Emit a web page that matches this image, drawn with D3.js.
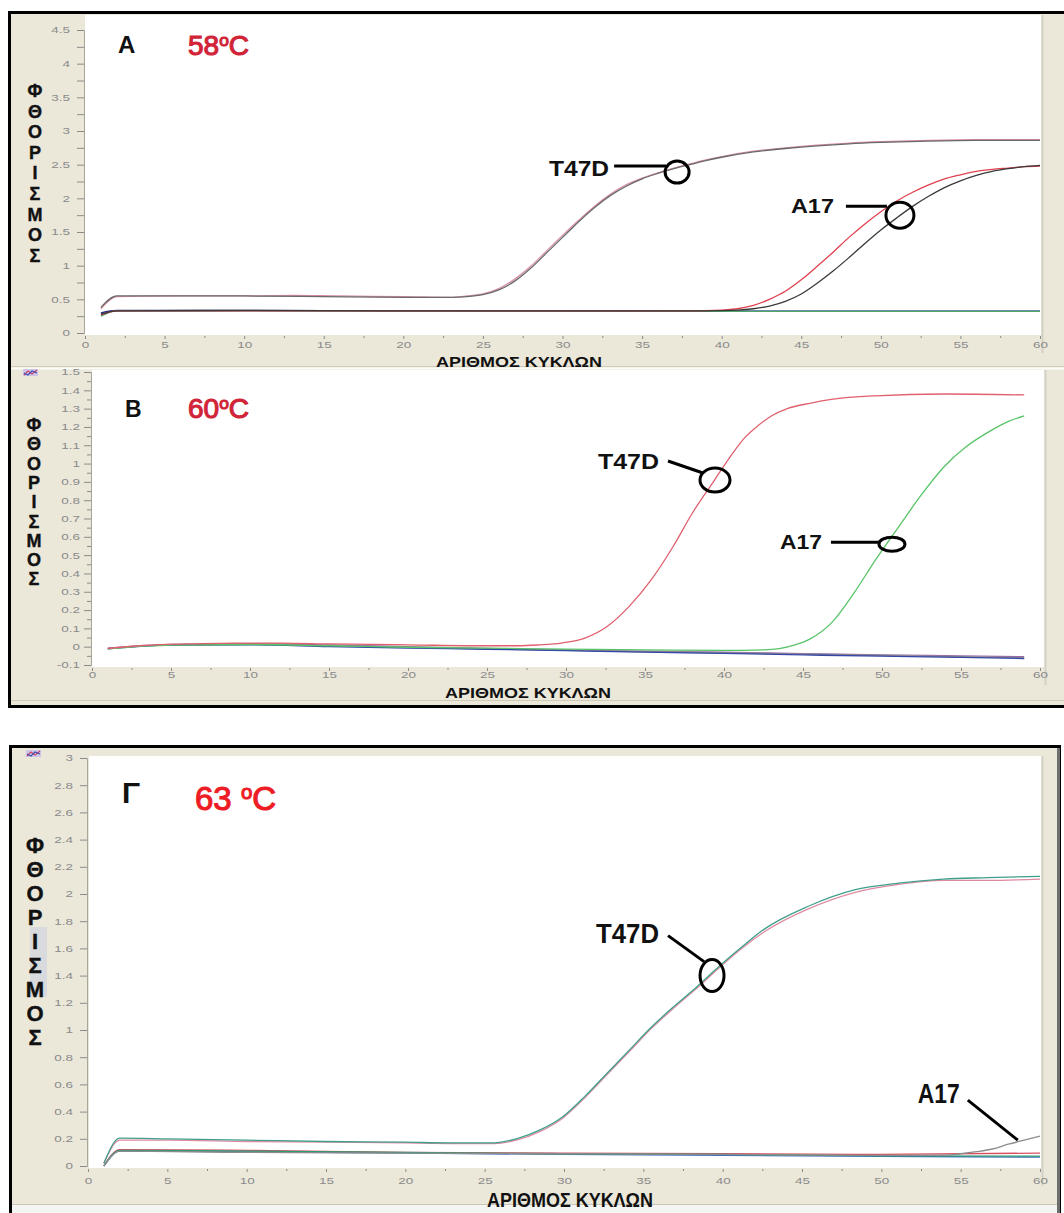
<!DOCTYPE html>
<html>
<head>
<meta charset="utf-8">
<script src="https://cdn.jsdelivr.net/npm/d3@7"></script>
<style>
  body { margin: 0; background: #ffffff; }
  svg { display: block; }
</style>
</head>
<body>
<svg id="fig" width="1064" height="1213"></svg>
<script>
// ---------------------------------------------------------------
// Real-time PCR amplification curves (fluorescence vs. cycle)
// at three annealing temperatures: 58, 60 and 63 °C.
// Each trace is a list of [cycle, fluorescence] readings.
// ---------------------------------------------------------------

// shared axis text
const xTickLabels = ["0","5","10","15","20","25","30","35","40","45","50","55","60"];
const yTickLabelsA = ["0","0.5","1","1.5","2","2.5","3","3.5","4","4.5"];
const yTickLabelsB = ["-0.1","0","0.1","0.2","0.3","0.4","0.5","0.6","0.7","0.8","0.9","1","1.1","1.2","1.3","1.4","1.5"];
const yTickLabelsC = ["0","0.2","0.4","0.6","0.8","1","1.2","1.4","1.6","1.8","2","2.2","2.4","2.6","2.8","3"];
const yTitleLetters = ["Φ","Θ","Ο","Ρ","Ι","Σ","Μ","Ο","Σ"];
const xTitle = "ΑΡΙΘΜΟΣ ΚΥΚΛΩΝ";

// ---- panel A : 58 °C ----
const a58_T47D_pink = [[1,0.36],[2,0.54],[6,0.55],[10,0.55],[13,0.56],[16,0.55],[20,0.54],[23,0.53],[24,0.55],[25,0.58],[26,0.66],[27,0.8],[28,0.99],[29,1.22],[30,1.45],[31,1.67],[32,1.88],[33,2.06],[34,2.2],[35,2.3],[36,2.38],[37,2.45],[38,2.51],[39,2.57],[40,2.62],[42,2.7],[44,2.75],[46,2.79],[48,2.82],[50,2.84],[53,2.86],[56,2.87],[60,2.87]];
const a58_T47D_gray = [[1,0.38],[2,0.55],[6,0.55],[10,0.55],[15,0.54],[20,0.53],[23,0.53],[24,0.54],[25,0.57],[26,0.64],[27,0.77],[28,0.96],[29,1.19],[30,1.42],[31,1.65],[32,1.86],[33,2.04],[34,2.18],[35,2.29],[36,2.37],[37,2.44],[38,2.5],[39,2.56],[40,2.61],[42,2.69],[44,2.74],[46,2.78],[48,2.81],[50,2.83],[53,2.85],[56,2.86],[60,2.86]];
const a58_A17_red = [[1,0.27],[2,0.33],[10,0.33],[20,0.33],[30,0.33],[38,0.33],[40,0.34],[41,0.36],[42,0.41],[43,0.5],[44,0.62],[45,0.79],[46,0.99],[47,1.2],[48,1.42],[49,1.62],[50,1.8],[51,1.96],[52,2.09],[53,2.2],[54,2.29],[55,2.35],[56,2.4],[57,2.43],[58,2.45],[59,2.47],[60,2.48]];
const a58_A17_black = [[1,0.28],[2,0.33],[10,0.335],[20,0.33],[30,0.33],[39,0.33],[41,0.34],[42,0.36],[43,0.4],[44,0.47],[45,0.58],[46,0.74],[47,0.92],[48,1.12],[49,1.33],[50,1.53],[51,1.71],[52,1.88],[53,2.03],[54,2.16],[55,2.26],[56,2.34],[57,2.4],[58,2.44],[59,2.47],[60,2.49]];
const a58_neg_green = [[1,0.25],[2,0.33],[10,0.33],[20,0.325],[30,0.325],[40,0.32],[50,0.32],[60,0.32]];
const a58_neg_navy = [[1,0.3],[2,0.335],[10,0.335],[20,0.33],[30,0.33],[40,0.325],[50,0.325],[60,0.325]];
const a58_neg_blue = [[1,0.29],[2,0.33],[15,0.33],[30,0.325],[45,0.322],[60,0.322]];

// ---- panel B : 60 °C ----
const b60_T47D_red = [[1,-0.01],[3,0.005],[6,0.015],[9,0.02],[12,0.02],[15,0.015],[20,0.01],[25,0.005],[27,0.005],[28.3,0.01],[29.7,0.02],[31.2,0.047],[32.6,0.11],[34,0.22],[35.4,0.366],[36.8,0.55],[38,0.73],[39.4,0.91],[40.5,1.05],[41.3,1.14],[42.2,1.21],[43,1.26],[44,1.3],[45.5,1.33],[46.8,1.35],[49.6,1.37],[53.9,1.38],[59,1.375]];
const b60_A17_green = [[1,-0.012],[5,0.008],[10,0.012],[15,0.005],[20,-0.003],[25,-0.008],[30,-0.013],[35,-0.017],[40,-0.02],[42.5,-0.017],[43.5,-0.01],[44.5,0.01],[45.4,0.04],[46.8,0.13],[48.2,0.29],[49.6,0.475],[51.1,0.66],[52.5,0.83],[53.9,0.98],[55.3,1.09],[56.7,1.17],[58,1.23],[59,1.26]];
const b60_neg_blue = [[1,-0.012],[5,0.008],[10,0.01],[15,0.0],[20,-0.008],[25,-0.014],[30,-0.022],[35,-0.03],[40,-0.037],[45,-0.045],[50,-0.052],[55,-0.058],[59,-0.065]];
const b60_neg_purple = [[1,-0.008],[5,0.012],[10,0.016],[15,0.01],[20,0.0],[25,-0.01],[30,-0.018],[35,-0.025],[40,-0.03],[45,-0.038],[50,-0.045],[55,-0.05],[59,-0.055]];
const b60_neg_gray = [[1,-0.01],[5,0.01],[10,0.013],[15,0.006],[20,-0.004],[25,-0.012],[30,-0.02],[35,-0.028],[40,-0.033],[45,-0.041],[50,-0.048],[55,-0.055],[59,-0.06]];

// ---- panel C : 63 °C ----
const c63_T47D_pink = [[1,0.02],[2,0.19],[5,0.19],[10,0.18],[15,0.175],[20,0.17],[22.8,0.165],[25.6,0.165],[27,0.19],[28.5,0.255],[29.9,0.35],[31.3,0.5],[32.7,0.67],[34.1,0.84],[35.5,1.01],[36.9,1.16],[38.4,1.31],[39.8,1.46],[41.2,1.6],[42.6,1.72],[45.4,1.89],[48.3,2.01],[51.1,2.07],[53.9,2.1],[56.7,2.1],[60,2.11]];
const c63_T47D_teal = [[1,0.02],[2,0.205],[5,0.2],[10,0.19],[15,0.18],[20,0.175],[22.8,0.17],[25.6,0.17],[27,0.2],[28.5,0.265],[29.9,0.36],[31.3,0.51],[32.7,0.68],[34.1,0.85],[35.5,1.02],[36.9,1.17],[38.4,1.32],[39.8,1.47],[41.2,1.61],[42.6,1.74],[45.4,1.91],[48.3,2.03],[51.1,2.08],[53.9,2.11],[56.7,2.12],[60,2.13]];
const c63_A17_gray = [[1,0.0],[2,0.11],[10,0.1],[20,0.095],[30,0.09],[40,0.085],[50,0.078],[54,0.08],[55,0.09],[56,0.105],[57,0.125],[58,0.16],[59,0.19],[60,0.22]];
const c63_neg_red = [[1,0.0],[2,0.12],[10,0.115],[20,0.1],[30,0.095],[40,0.09],[50,0.085],[60,0.095]];
const c63_neg_blue = [[1,0.0],[2,0.11],[15,0.1],[30,0.085],[45,0.075],[60,0.065]];
const c63_neg_green = [[1,0.0],[2,0.115],[10,0.11],[20,0.1],[30,0.09],[40,0.085],[50,0.075],[60,0.072]];

// ---------------------------------------------------------------
const FONT = '"Liberation Sans", Arial, Helvetica, sans-serif';
const BEIGE = "#ebe8da";
const svg = d3.select("#fig");

// outer frames
svg.append("rect").attr("x", 9.5).attr("y", 12.5).attr("width", 1060).attr("height", 694)
  .attr("fill", BEIGE).attr("stroke", "#000").attr("stroke-width", 3);
svg.append("line").attr("x1", 11).attr("x2", 1064).attr("y1", 366.5).attr("y2", 366.5)
  .attr("stroke", "#cfcbbb").attr("stroke-width", 1);
svg.append("line").attr("x1", 11).attr("x2", 1064).attr("y1", 368.5).attr("y2", 368.5)
  .attr("stroke", "#fbfbf7").attr("stroke-width", 2);
svg.append("line").attr("x1", 11).attr("x2", 1064).attr("y1", 700.5).attr("y2", 700.5)
  .attr("stroke", "#cfcbbb").attr("stroke-width", 1);

svg.append("rect").attr("x", 10.5).attr("y", 746.5).attr("width", 1049).attr("height", 480)
  .attr("fill", BEIGE).attr("stroke", "#000").attr("stroke-width", 3);
svg.append("rect").attr("x", 12).attr("y", 1205).attr("width", 1046).attr("height", 10).attr("fill", "#f4f4f2");
svg.append("line").attr("x1", 12).attr("x2", 1058).attr("y1", 1204.5).attr("y2", 1204.5)
  .attr("stroke", "#c9c6b6");
svg.append("line").attr("x1", 1058.5).attr("x2", 1058.5).attr("y1", 748).attr("y2", 1213)
  .attr("stroke", "#6e6e6e").attr("stroke-width", 3);

// small chart icons at the top-left corner of B and Γ
function chartIcon(x, y) {
  const g = svg.append("g").attr("transform", `translate(${x},${y})`);
  g.append("rect").attr("width", 15).attr("height", 7).attr("fill", "#cdc6ea");
  g.append("polyline").attr("points", "1,6 5,2 9,5 14,1").attr("fill", "none").attr("stroke", "#d04060").attr("stroke-width", 1.2);
  g.append("polyline").attr("points", "1,4 5,6 9,2 14,4").attr("fill", "none").attr("stroke", "#4050b0").attr("stroke-width", 1.2);
}
chartIcon(23, 369);
chartIcon(26, 750);

// grey patch behind part of the Γ y-title
svg.append("rect").attr("x", 30).attr("y", 927).attr("width", 17).attr("height", 70)
  .attr("fill", "#d6d8de").attr("opacity", 0.9);

// ---------------------------------------------------------------
const panels = [
  {
    letter: "A", temp: "58", tempGap: "", tempColor: "#d12438",
    xRange: [85, 1040], yDomain: [0, 4.5], yRange: [333, 30],
    plot: { x: 85, y: 15, w: 956, h: 320 },
    yTickLabels: yTickLabelsA, yMinorStep: 0.25, yLabelEnd: 70,
    xLabelY: 348, xTitleY: 367, xTitleX: 519, xTitleSize: 15,
    letterPos: [118, 53, 24], tempPos: [188, 55, 28],
    yTitle: { x: 35, y0: 97, step: 20.6, size: 18 },
    series: [
      { d: a58_neg_blue,   c: "#6f86c8" },
      { d: a58_neg_navy,   c: "#2c2c86" },
      { d: a58_neg_green,  c: "#4fa46c" },
      { d: a58_A17_red,    c: "#e0404f" },
      { d: a58_A17_black,  c: "#3a3a3a" },
      { d: a58_T47D_pink,  c: "#d98fa2" },
      { d: a58_T47D_gray,  c: "#6a6a6a" }
    ],
    notes: [
      { text: "T47D", at: [37.2, 2.39], rx: 12, ry: 11, lead: [[-63, -6], [-11, -6]], label: [-68, 4], size: 22, len: 60 },
      { text: "A17",  at: [51.2, 1.75], rx: 14, ry: 13, lead: [[-54, -9], [-13, -9]], label: [-66, -2], size: 21, len: 43 }
    ]
  },
  {
    letter: "B", temp: "60", tempGap: "", tempColor: "#d12438",
    xRange: [92, 1040], yDomain: [-0.1, 1.5], yRange: [665, 372],
    plot: { x: 92, y: 370, w: 952, h: 297 },
    yTickLabels: yTickLabelsB, yMinorStep: 0.05, yLabelEnd: 80,
    xLabelY: 678, xTitleY: 698, xTitleX: 528, xTitleSize: 15,
    letterPos: [125, 417, 23], tempPos: [188, 418, 28],
    yTitle: { x: 34, y0: 431, step: 19.3, size: 18 },
    series: [
      { d: b60_neg_purple, c: "#9a6aa8" },
      { d: b60_neg_gray,   c: "#8a8a8a" },
      { d: b60_neg_blue,   c: "#3448a8" },
      { d: b60_A17_green,  c: "#58c468" },
      { d: b60_T47D_red,   c: "#e0606e" }
    ],
    notes: [
      { text: "T47D", at: [39.43, 0.91], rx: 15, ry: 12, lead: [[-47, -19], [-12, -7]], label: [-56, -11], size: 22, len: 61 },
      { text: "A17",  at: [50.63, 0.56], rx: 13, ry: 7,  lead: [[-61, -2], [-13, -2]],  label: [-70, 5],   size: 21, len: 42 }
    ]
  },
  {
    letter: "Γ", temp: "63", tempGap: " ", tempColor: "#ee1c25",
    xRange: [88, 1040], yDomain: [0, 3], yRange: [1166, 758],
    plot: { x: 89, y: 756, w: 952, h: 412 },
    yTickLabels: yTickLabelsC, yMinorStep: null, yLabelEnd: 73,
    xLabelY: 1184, xTitleY: 1207, xTitleX: 570, xTitleSize: 20,
    letterPos: [122, 803, 30], tempPos: [195, 810, 33],
    yTitle: { x: 35, y0: 853, step: 24, size: 22 },
    series: [
      { d: c63_neg_blue,   c: "#3f6fc0" },
      { d: c63_neg_red,    c: "#d85060" },
      { d: c63_neg_green,  c: "#2e9a72" },
      { d: c63_A17_gray,   c: "#8c8c8c" },
      { d: c63_T47D_pink,  c: "#e08aa0" },
      { d: c63_T47D_teal,  c: "#3f9f8c" }
    ],
    notes: [
      { text: "T47D", at: [39.33, 1.40], rx: 12, ry: 16, lead: [[-44, -40], [-8, -14]], label: [-53, -33], size: 27, len: 63 },
      { text: "A17",  at: [58.6, 0.19],  rx: 0,  ry: 0,  lead: [[-50, -40], [0, 0]],    label: [-58, -37], size: 27, len: 42 }
    ]
  }
];

panels.forEach(p => {
  const x = d3.scaleLinear().domain([0, 60]).range(p.xRange);
  const y = d3.scaleLinear().domain(p.yDomain).range(p.yRange);
  const g = svg.append("g");

  // white plotting area
  g.append("rect").attr("x", p.plot.x).attr("y", p.plot.y)
    .attr("width", p.plot.w).attr("height", p.plot.h).attr("fill", "#ffffff");
  g.append("line").attr("x1", p.plot.x + p.plot.w + 1.5).attr("x2", p.plot.x + p.plot.w + 1.5)
    .attr("y1", p.plot.y).attr("y2", p.plot.y + p.plot.h + 18)
    .attr("stroke", "#d4d1c4").attr("stroke-width", 2);

  // y axis (labels + major ticks)
  const yVals = p.yTickLabels.map(Number);
  const yAxisX = p.xRange[0] - 1;
  const yAx = g.append("g").attr("transform", `translate(${yAxisX},0)`)
    .call(d3.axisLeft(y).tickValues(yVals).tickFormat((d, i) => p.yTickLabels[i]).tickSize(7));
  yAx.select(".domain").attr("stroke", "#a9a698");
  yAx.selectAll(".tick line").attr("stroke", "#8b8b8b");
  yAx.selectAll(".tick text")
    .attr("x", (p.yLabelEnd - yAxisX) / 1.5)
    .attr("transform", "scale(1.5,1)")
    .attr("fill", "#8a8a8a").attr("font-size", 9).attr("font-family", FONT);

  // y minor ticks
  if (p.yMinorStep) {
    const n = Math.round((p.yDomain[1] - p.yDomain[0]) / p.yMinorStep);
    const minor = d3.range(n + 1).map(i => p.yDomain[0] + i * p.yMinorStep)
      .filter((v, i) => i % 2 === 1);
    const mAx = g.append("g").attr("transform", `translate(${yAxisX},0)`)
      .call(d3.axisLeft(y).tickValues(minor).tickFormat("").tickSize(p.yMinorStep < 0.1 ? 4 : 7));
    mAx.select(".domain").remove();
    mAx.selectAll(".tick line").attr("stroke", "#8b8b8b");
  }

  // x axis (labels + ticks)
  const xAxisY = p.plot.y + p.plot.h;
  const xAx = g.append("g").attr("transform", `translate(0,${xAxisY})`)
    .call(d3.axisBottom(x).tickValues(xTickLabels.map(Number)).tickFormat((d, i) => xTickLabels[i]).tickSize(4));
  xAx.select(".domain").remove();
  xAx.selectAll(".tick line").attr("stroke", "#8b8b8b").attr("y1", 1);
  xAx.selectAll(".tick text")
    .attr("y", 0).attr("dy", 0)
    .attr("transform", `translate(0,${p.xLabelY - xAxisY}) scale(1.5,1)`)
    .attr("fill", "#8a8a8a").attr("font-size", 9).attr("font-family", FONT);
  const minorX = d3.range(0, 12).map(i => 2.5 + 5 * i);
  const xm = g.append("g").attr("transform", `translate(0,${xAxisY})`)
    .call(d3.axisBottom(x).tickValues(minorX).tickFormat("").tickSize(3));
  xm.select(".domain").remove();
  xm.selectAll(".tick line").attr("stroke", "#8b8b8b").attr("y1", 1);

  // x axis title
  g.append("text").attr("x", p.xTitleX).attr("y", p.xTitleY)
    .attr("text-anchor", "middle").attr("font-family", FONT).attr("font-weight", "bold")
    .attr("font-size", p.xTitleSize).attr("textLength", 166).attr("lengthAdjust", "spacingAndGlyphs")
    .attr("fill", "#111").text(xTitle);

  // stacked y axis title
  g.selectAll(null).data(yTitleLetters).join("text")
    .attr("x", p.yTitle.x).attr("y", (d, i) => p.yTitle.y0 + i * p.yTitle.step)
    .attr("text-anchor", "middle").attr("font-family", FONT).attr("font-weight", "bold")
    .attr("font-size", p.yTitle.size).attr("fill", "#111")
    .attr("stroke", "#111").attr("stroke-width", 0.4).text(d => d);

  // panel letter and annealing temperature
  g.append("text").attr("x", p.letterPos[0]).attr("y", p.letterPos[1])
    .attr("font-family", FONT).attr("font-weight", "bold").attr("font-size", p.letterPos[2])
    .attr("fill", "#111").text(p.letter);
  const t = g.append("text").attr("x", p.tempPos[0]).attr("y", p.tempPos[1])
    .attr("font-family", FONT).attr("font-size", p.tempPos[2]).attr("fill", p.tempColor)
    .attr("stroke", p.tempColor).attr("stroke-width", 1.1);
  t.append("tspan").text(p.temp + p.tempGap);
  t.append("tspan").attr("font-size", p.tempPos[2] * 0.62).attr("dy", -p.tempPos[2] * 0.33).text("o");
  t.append("tspan").attr("dy", p.tempPos[2] * 0.33).text("C");

  // amplification traces
  const line = d3.line().x(d => x(d[0])).y(d => y(d[1])).curve(d3.curveMonotoneX);
  g.selectAll(null).data(p.series).join("path")
    .attr("d", s => line(s.d)).attr("fill", "none")
    .attr("stroke", s => s.c).attr("stroke-width", 1.3);

  // callouts
  p.notes.forEach(n => {
    const cx = x(n.at[0]), cy = y(n.at[1]);
    g.append("line")
      .attr("x1", cx + n.lead[0][0]).attr("y1", cy + n.lead[0][1])
      .attr("x2", cx + n.lead[1][0]).attr("y2", cy + n.lead[1][1])
      .attr("stroke", "#000").attr("stroke-width", 3);
    if (n.rx > 0) {
      g.append("ellipse").attr("cx", cx).attr("cy", cy).attr("rx", n.rx).attr("ry", n.ry)
        .attr("fill", "none").attr("stroke", "#000").attr("stroke-width", 3);
    }
    g.append("text").attr("x", cx + n.label[0]).attr("y", cy + n.label[1])
      .attr("text-anchor", "end").attr("font-family", FONT).attr("font-weight", "bold")
      .attr("font-size", n.size).attr("textLength", n.len).attr("lengthAdjust", "spacingAndGlyphs")
      .attr("fill", "#111").text(n.text);
  });
});
</script>
</body>
</html>
